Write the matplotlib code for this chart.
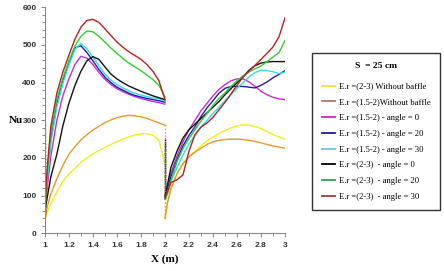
import matplotlib
matplotlib.use("Agg")
import matplotlib.pyplot as plt
from matplotlib.lines import Line2D
from matplotlib.ticker import MultipleLocator

# x grid for the two channel sections
x_left = [1.0, 1.02, 1.05, 1.1, 1.15, 1.2, 1.25, 1.3, 1.35, 1.4, 1.45, 1.5,
          1.55, 1.6, 1.65, 1.7, 1.75, 1.8, 1.85, 1.9, 1.95, 2.0]
x_right = [2.0, 2.02, 2.05, 2.1, 2.15, 2.2, 2.25, 2.3, 2.35, 2.4, 2.45, 2.5,
           2.55, 2.6, 2.65, 2.7, 2.75, 2.8, 2.85, 2.9, 2.95, 3.0]

labels = ["E.r =(2-3) Without baffle", "E.r =(1.5-2)Without baffle",
          "E.r =(1.5-2) - angle = 0", "E.r =(1.5-2) - angle = 20",
          "E.r =(1.5-2) - angle = 30", "E.r =(2-3)  - angle = 0",
          "E.r =(2-3)  - angle = 20", "E.r =(2-3)  - angle = 30"]

yellow_l = [35, 55, 78, 110, 138, 157, 172, 188, 200, 211, 220, 228, 236, 243, 250, 256, 261, 264, 265, 260, 247, 185]
orange_l = [35, 70, 105, 145, 180, 210, 230, 248, 262, 274, 284, 294, 301, 307, 311, 313, 312, 309, 305, 299, 293, 287]
magenta_l = [70, 120, 205, 300, 365, 410, 448, 470, 465, 448, 427, 409, 395, 384, 376, 369, 363, 358, 354, 350, 347, 343]
blue_l = [55, 150, 250, 345, 405, 452, 492, 498, 480, 458, 435, 415, 400, 388, 380, 372, 366, 362, 358, 355, 352, 348]
cyan_l = [60, 140, 240, 335, 398, 447, 488, 504, 490, 468, 445, 423, 407, 395, 386, 378, 372, 367, 363, 360, 357, 352]
black_l = [60, 95, 150, 210, 285, 345, 392, 430, 458, 469, 462, 442, 423, 410, 400, 391, 384, 377, 371, 365, 360, 355]
green_l = [60, 160, 265, 355, 412, 458, 497, 523, 537, 535, 523, 508, 492, 478, 464, 452, 442, 432, 420, 408, 393, 362]
red_l = [60, 175, 285, 372, 428, 473, 515, 547, 565, 568, 560, 543, 525, 508, 494, 482, 472, 462, 448, 430, 405, 355]

yellow_r = [40, 80, 118, 158, 185, 203, 218, 232, 245, 256, 265, 273, 280, 285, 288, 287, 284, 278, 270, 262, 256, 250]
orange_r = [40, 80, 118, 158, 185, 203, 215, 226, 236, 243, 247, 249, 250, 250, 249, 247, 244, 240, 236, 232, 229, 226]
magenta_r = [95, 120, 160, 205, 243, 275, 300, 325, 345, 365, 382, 395, 405, 410, 410, 402, 390, 377, 368, 361, 357, 355]
blue_r = [95, 112, 150, 195, 232, 260, 283, 310, 333, 352, 372, 385, 390, 390, 390, 388, 386, 393, 402, 413, 422, 432]
cyan_r = [95, 108, 138, 175, 208, 237, 260, 282, 300, 318, 335, 352, 368, 385, 400, 415, 427, 433, 432, 429, 424, 428]
black_r = [100, 128, 175, 218, 253, 275, 290, 305, 320, 335, 350, 368, 384, 400, 415, 433, 445, 452, 455, 456, 456, 456]
green_r = [90, 103, 140, 190, 225, 252, 275, 298, 318, 340, 358, 373, 390, 405, 418, 428, 437, 444, 456, 468, 480, 512]
red_r = [95, 110, 135, 142, 155, 218, 262, 282, 293, 308, 328, 348, 370, 393, 415, 431, 446, 462, 478, 495, 522, 572]

# dotted spikes at the section inlets (x = 1 and x = 2)
spike_top_1 = [40, 40, 150, 160, 180, 210, 270, 295]
spike_top_2 = [200, 290, 260, 240, 230, 250, 220, 250]

left = [yellow_l, orange_l, magenta_l, blue_l, cyan_l, black_l, green_l, red_l]
right = [yellow_r, orange_r, magenta_r, blue_r, cyan_r, black_r, green_r, red_r]

line_colors = ["#f4ee1c", "#e89a2c", "#cc2ccc", "#1c1cb4", "#33dde6", "#111111", "#33cc33", "#bb2020"]
legend_colors = ["#f0e62a", "#a87c5c", "#d21fd2", "#1a1a99", "#66c8d8", "#000000", "#2e9e5b", "#a83838"]

fig = plt.figure(figsize=(4.44, 2.71), dpi=100)
ax = fig.add_axes([0.101, 0.139, 0.541, 0.834])

for i in range(len(labels)):
    ax.plot(x_left, left[i], color=line_colors[i], lw=1.0)
    ax.plot(x_right, right[i], color=line_colors[i], lw=1.0)
    ax.vlines(x_left[0], left[i][0], spike_top_1[i], color=line_colors[i], lw=1.0, linestyles=":")
    ax.vlines(x_right[0], right[i][0], spike_top_2[i], color=line_colors[i], lw=1.0, linestyles=":")

ax.set_xlim(1, 3)
ax.set_ylim(0, 600)
ax.xaxis.set_major_locator(MultipleLocator(0.2))
ax.xaxis.set_minor_locator(MultipleLocator(0.1))
ax.yaxis.set_major_locator(MultipleLocator(100))
ax.yaxis.set_minor_locator(MultipleLocator(20))
ax.xaxis.set_major_formatter(plt.FuncFormatter(lambda v, p: f"{v:g}"))
for s in ["top", "right"]:
    ax.spines[s].set_visible(False)
for s in ["left", "bottom"]:
    ax.spines[s].set_color("#888888")
    ax.spines[s].set_linewidth(0.8)
ax.tick_params(which="both", direction="out", color="#888888", width=0.7)
ax.tick_params(which="major", length=3, labelsize=6, labelcolor="#333333", pad=3)
ax.tick_params(which="minor", length=2)
for t in ax.get_xticklabels() + ax.get_yticklabels():
    t.set_family("Liberation Sans")
    t.set_fontweight("bold")

ax.set_xlabel("X (m)", family="Liberation Serif", fontweight="bold", fontsize=8, labelpad=4)
fig.text(0.035, 0.555, "Nu", family="Liberation Serif", fontweight="bold", fontsize=8,
         ha="center", va="center")

handles = [Line2D([0], [0], color=c, lw=1.3) for c in legend_colors]
leg = fig.legend(handles, labels, loc="upper left", bbox_to_anchor=(0.703, 0.806, 0.289, 0.0),
                 mode="expand", title="S  = 25 cm", frameon=True, fancybox=False, handlelength=1.5,
                 handletextpad=0.5, labelspacing=0.9, borderpad=1.1, borderaxespad=0.0,
                 prop={"family": "Liberation Serif", "size": 6.2},
                 title_fontproperties={"family": "Liberation Serif", "weight": "bold", "size": 6.8})
leg.get_frame().set_edgecolor("black")
leg.get_frame().set_linewidth(1.0)
leg._legend_box.sep = 9

fig.savefig("out.png", dpi=100)
